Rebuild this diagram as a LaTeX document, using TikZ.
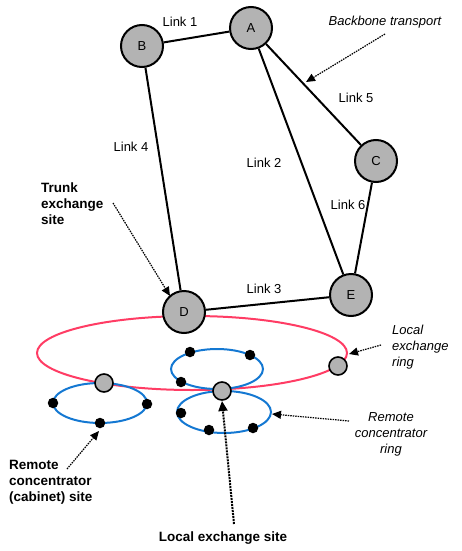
\documentclass[tikz,border=0pt]{standalone}
\usepackage{fontspec}
\setmainfont{Liberation Sans}
\usetikzlibrary{arrows.meta,calc}
\definecolor{sitegray}{RGB}{179,179,179}
\definecolor{ringred}{RGB}{255,60,100}
\definecolor{ringblue}{RGB}{20,120,210}
\begin{document}
\begin{tikzpicture}[x=1pt,y=-1pt,
  every node/.style={font=\fontsize{13}{16}\selectfont},
  site/.style={circle,draw,line width=2pt,fill=sitegray,minimum size=42pt,inner sep=0pt},
  hub/.style={circle,draw,line width=1.6pt,fill=sitegray,minimum size=18pt,inner sep=0pt},
  dot/.style={circle,fill=black,minimum size=10.5pt,inner sep=0pt},
  link/.style={line width=2pt},
  lbl/.style={inner sep=0pt},
  note/.style={inner sep=0pt,align=left,font=\fontsize{13}{16}\selectfont\itshape},
  bnote/.style={inner sep=0pt,align=left,font=\fontsize{13.5}{16}\selectfont\bfseries},
  pointer/.style={dash pattern=on 1.5pt off 1pt,line width=1.2pt,-{Triangle[length=9pt,width=8pt]}},
  bigpointer/.style={dash pattern=on 2pt off 1pt,line width=2pt,-{Triangle[length=10pt,width=9pt]}},
  redring/.style={draw=ringred,line width=2pt},
  bluering/.style={draw=ringblue,line width=2pt},
]
\useasboundingbox (0,0) rectangle (462,551);

% rings
\draw[redring] (192,353) ellipse (155 and 37);
\draw[bluering] (100,403) ellipse (47 and 20);
\draw[bluering] (217,369) ellipse (46 and 20);
\draw[bluering] (224,412) ellipse (47 and 21);

% backbone sites
\node[site] (A) at (251,28) {A};
\node[site] (B) at (142,46) {B};
\node[site] (C) at (376,161) {C};
\node[site] (D) at (184,312) {D};
\node[site] (E) at (351,295) {E};

% links
\draw[link] (B) -- (A);
\draw[link] (A) -- (C);
\draw[link] (A) -- (E);
\draw[link] (B) -- (D);
\draw[link] (C) -- (E);
\draw[link] (D) -- (E);

\node[lbl] (l1) at (180,22) {Link 1};
\node[lbl] (l5) at (356,98) {Link 5};
\node[lbl] (l2) at (264,163) {Link 2};
\node[lbl] (l4) at (131,147) {Link 4};
\node[lbl] (l6) at (348,205) {Link 6};
\node[lbl] (l3) at (264,289) {Link 3};

% local exchange hubs on the red ring
\node[hub] (h1) at (104,383) {};
\node[hub] (h2) at (222,391) {};
\node[hub] (h3) at (338,366) {};

% remote concentrator sites
\node[dot] (d1) at (53,403) {};
\node[dot] (d2) at (147,404) {};
\node[dot] (d3) at (100,423) {};
\node[dot] (d4) at (190,352) {};
\node[dot] (d5) at (250,355) {};
\node[dot] (d6) at (181,382) {};
\node[dot] (d7) at (181,413) {};
\node[dot] (d8) at (209,430) {};
\node[dot] (d9) at (253,428) {};

% annotations
\node[note] (bb) at (385,22) {Backbone transport};
\coordinate (bbs) at (385,34);
\coordinate (bbe) at (306,82);
\draw[pointer] (bbs) -- (bbe);

\node[bnote,anchor=west] (tr) at (41,204) {Trunk\\exchange\\site};
\coordinate (trs) at (113,203);
\coordinate (tre) at (170,296);
\draw[pointer] (trs) -- (tre);

\node[note,anchor=west] (lr) at (392,347) {Local\\exchange\\ring};
\coordinate (lrs) at (381,345);
\coordinate (lre) at (349,354);
\draw[pointer] (lrs) -- (lre);

\node[note,align=center] (rr) at (391,434) {Remote\\concentrator\\ring};
\coordinate (rrs) at (349,421);
\coordinate (rre) at (272,414);
\draw[pointer] (rrs) -- (rre);

\node[bnote,anchor=west] (rc) at (9,482) {Remote\\concentrator\\(cabinet) site};
\coordinate (rcs) at (67,469);
\coordinate (rce) at (99,431);
\draw[pointer] (rcs) -- (rce);

\node[bnote] (ls) at (223,538) {Local exchange site};
\coordinate (lss) at (234,524);
\coordinate (lse) at (222,401);
\draw[bigpointer] (lss) -- (lse);
\end{tikzpicture}
\end{document}
